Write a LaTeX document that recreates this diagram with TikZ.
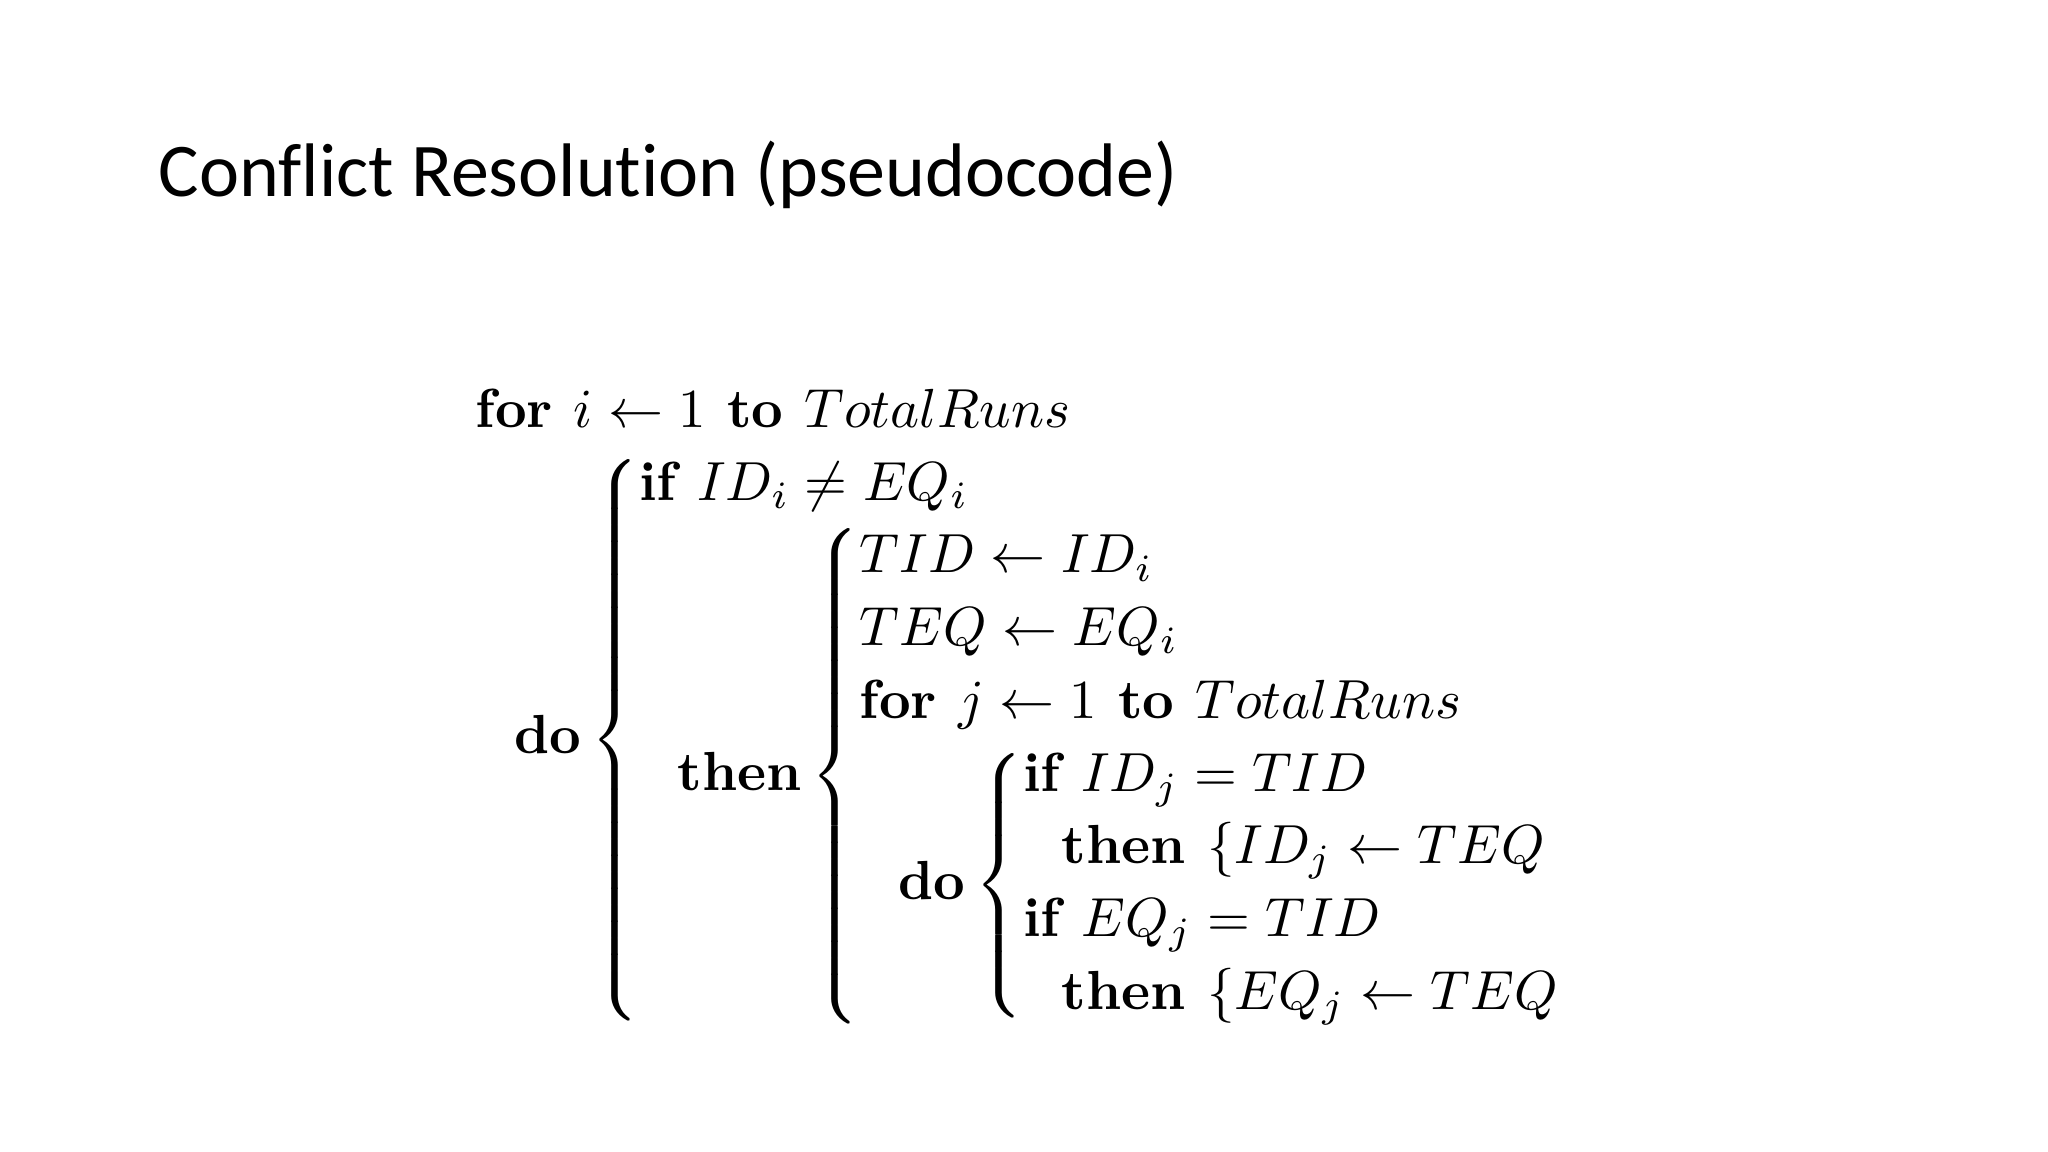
\documentclass[tikz,border=0pt]{standalone}
\usepackage{fontspec}
\newfontfamily\titlefont[Ligatures={NoCommon}]{Carlito}
\usepackage{amsmath}
\usepackage{graphicx}
\begin{document}
\begin{tikzpicture}
\useasboundingbox (0,0) rectangle (20.48,11.52);
\fill[white] (0,0) rectangle (20.48,11.52);
\node[anchor=base west, inner sep=0, font=\titlefont\fontsize{21.6}{26}\selectfont] (title) at (1.58,9.55) {Conflict Resolution (pseudocode)};
\node[anchor=north west, inner sep=0] (code) at (4.75,7.76) {\resizebox{11.02cm}{!}{$\renewcommand{\arraystretch}{1.1}
\begin{array}{@{}l@{}}
\textbf{for } i \leftarrow 1 \textbf{ to } TotalRuns\\
\hspace{0.7em}\textbf{do} \left\{\begin{array}{@{}l@{}}
 \textbf{if } ID_i\neq EQ_i\\
 \hspace{0.7em}\textbf{then}\left\{\begin{array}{@{}l@{}}
   TID\leftarrow ID_i\\
   TEQ\leftarrow EQ_i\\
   \textbf{for } j\leftarrow 1 \textbf{ to } TotalRuns\\
   \hspace{0.7em}\textbf{do}\left\{\begin{array}{@{}l@{}}
     \textbf{if } ID_j = TID\\
     \hspace{0.7em}\textbf{then } \{ID_j\leftarrow TEQ\\
     \textbf{if } EQ_j = TID\\
     \hspace{0.7em}\textbf{then } \{EQ_j\leftarrow TEQ
   \end{array}\right.
 \end{array}\right.
\end{array}\right.
\end{array}$}};
\end{tikzpicture}
\end{document}
